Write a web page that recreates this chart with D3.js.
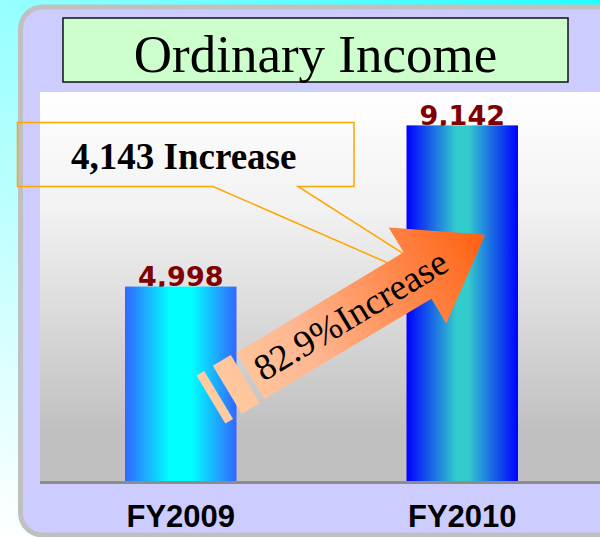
<!DOCTYPE html>
<html>
<head>
<meta charset="utf-8">
<script src="https://cdn.jsdelivr.net/npm/d3@7"></script>
<style>
  html, body { margin: 0; padding: 0; background: #fff; }
  svg { display: block; }
</style>
</head>
<body>
<div id="chart"></div>
<script>
// Data
const categories = ["FY2009", "FY2010"];
const values = [4998, 9142];
const chartTitle = "Ordinary Income";
const diffLabel = "4,143 Increase";
const pctLabel = "82.9%Increase";

const width = 600;
const height = 537;

const svg = d3.select("#chart")
    .append("svg")
    .attr("width", width)
    .attr("height", height);

const defs = svg.append("defs");

// Gradients
function linGrad(id, stops, x2, y2, x1 = 0, y1 = 0) {
    const g = defs.append("linearGradient")
        .attr("id", id)
        .attr("x1", x1).attr("y1", y1)
        .attr("x2", x2).attr("y2", y2);
    stops.forEach(([o, c]) => g.append("stop").attr("offset", o).attr("stop-color", c));
    return g;
}
linGrad("bgGrad", [[0, "#20ffff"], [0.45, "#8cffff"], [1, "#ffffff"]], 0, 1, 1, 0);
linGrad("plotGrad", [[0, "#ffffff"], [0.3, "#f2f2f2"], [0.6, "#d8d8d8"], [0.87, "#c0c0c0"], [1, "#c0c0c0"]], 0, 1);
const barGrads = [
    [[0, "#3366ff"], [0.4, "#00ffff"], [0.6, "#00ffff"], [1, "#3366ff"]],
    [[0, "#0000ff"], [0.45, "#33cccc"], [0.55, "#33cccc"], [1, "#0000ff"]]
];
barGrads.forEach((s, i) => linGrad("barGrad" + i, s, 1, 0));

// Background and panel
svg.append("rect").attr("width", width).attr("height", height).attr("fill", "url(#bgGrad)");
svg.append("rect")
    .attr("x", 20.5).attr("y", 7)
    .attr("width", 640).attr("height", 528)
    .attr("rx", 22)
    .attr("fill", "#ccccff")
    .attr("stroke", "#c0c0c0")
    .attr("stroke-width", 5);

// Title box
svg.append("rect")
    .attr("x", 63).attr("y", 18)
    .attr("width", 505).attr("height", 64)
    .attr("fill", "#ccffcc")
    .attr("stroke", "#111")
    .attr("stroke-width", 1.5);
svg.append("text")
    .attr("x", 315.5).attr("y", 72)
    .attr("text-anchor", "middle")
    .style("font-family", "'Liberation Serif', 'Times New Roman', serif")
    .style("font-size", "53px")
    .text(chartTitle);

// Scales
const plot = { left: 40, right: 603, top: 92, bottom: 481 };
const x = d3.scaleBand()
    .domain(categories)
    .range([plot.left, plot.right])
    .paddingInner(0.604)
    .paddingOuter(0.302);
const y = d3.scaleLinear()
    .domain([0, 10000])
    .range([plot.bottom, plot.top]);

// Plot area
svg.append("rect")
    .attr("x", plot.left).attr("y", plot.top)
    .attr("width", width - plot.left).attr("height", plot.bottom - plot.top)
    .attr("fill", "url(#plotGrad)");

// Callout (drawn under bars and arrow)
svg.append("path")
    .attr("d", "M17.5,122.5 L354,122.5 L354,186.5 L298,186.5 L484,305 L213,186.5 L17.5,186.5 Z")
    .attr("fill", "none")
    .attr("stroke", "#ffa500")
    .attr("stroke-width", 1.5);
svg.append("text")
    .attr("x", 71).attr("y", 169)
    .style("font-family", "'Liberation Serif', 'Times New Roman', serif")
    .style("font-weight", "bold")
    .style("font-size", "37px")
    .text(diffLabel);

// Value labels (behind bars, the bar clips the comma)
svg.selectAll(".vlabel")
    .data(values)
    .join("text")
    .attr("class", "vlabel")
    .attr("x", (d, i) => x(categories[i]) + x.bandwidth() / 2)
    .attr("y", d => y(d) - 0.5)
    .attr("text-anchor", "middle")
    .attr("fill", "#800000")
    .style("font-family", "'DejaVu Sans', Verdana, sans-serif")
    .style("font-weight", "bold")
    .style("font-size", "27px")
    .text(d => d3.format(",")(d));

// Bars
svg.selectAll(".bar")
    .data(values)
    .join("rect")
    .attr("class", "bar")
    .attr("x", (d, i) => x(categories[i]))
    .attr("y", d => y(d))
    .attr("width", x.bandwidth())
    .attr("height", d => y(0) - y(d))
    .attr("fill", (d, i) => `url(#barGrad${i})`);

// Baseline
svg.append("line")
    .attr("x1", plot.left).attr("x2", width)
    .attr("y1", y(0) + 1.5).attr("y2", y(0) + 1.5)
    .attr("stroke", "#8c8c8c")
    .attr("stroke-width", 3);

// Category labels
svg.selectAll(".xlabel")
    .data(categories)
    .join("text")
    .attr("class", "xlabel")
    .attr("x", d => x(d) + x.bandwidth() / 2)
    .attr("y", 527)
    .attr("text-anchor", "middle")
    .style("font-family", "'Liberation Sans', Arial, sans-serif")
    .style("font-weight", "bold")
    .style("font-size", "31px")
    .text(d => d);

// Growth arrow, local coords: u along arrow, origin at head base centre
const arrow = svg.append("g")
    .attr("transform", "translate(417.5,275.5) rotate(-31)");
const ag = defs.append("linearGradient")
    .attr("id", "arrowGrad")
    .attr("gradientUnits", "userSpaceOnUse")
    .attr("x1", -241).attr("y1", 0)
    .attr("x2", 79).attr("y2", 0);
ag.append("stop").attr("offset", 0).attr("stop-color", "#ffcca0");
ag.append("stop").attr("offset", 0.35).attr("stop-color", "#ffb690");
ag.append("stop").attr("offset", 1).attr("stop-color", "#ff6010");

arrow.append("path")
    .attr("d", "M-195,-27 L0,-27 L0,-56 L79,0 L0,56 L0,27 L-195,27 Z")
    .attr("fill", "url(#arrowGrad)");
arrow.append("rect")
    .attr("x", -222).attr("y", -28).attr("width", 21).attr("height", 56)
    .attr("fill", "url(#arrowGrad)");
arrow.append("rect")
    .attr("x", -241).attr("y", -28).attr("width", 9).attr("height", 56)
    .attr("fill", "url(#arrowGrad)");
arrow.append("text")
    .attr("x", -187).attr("y", 12)
    .style("font-family", "'Liberation Serif', 'Times New Roman', serif")
    .style("font-size", "37px")
    .text(pctLabel);
</script>
</body>
</html>
